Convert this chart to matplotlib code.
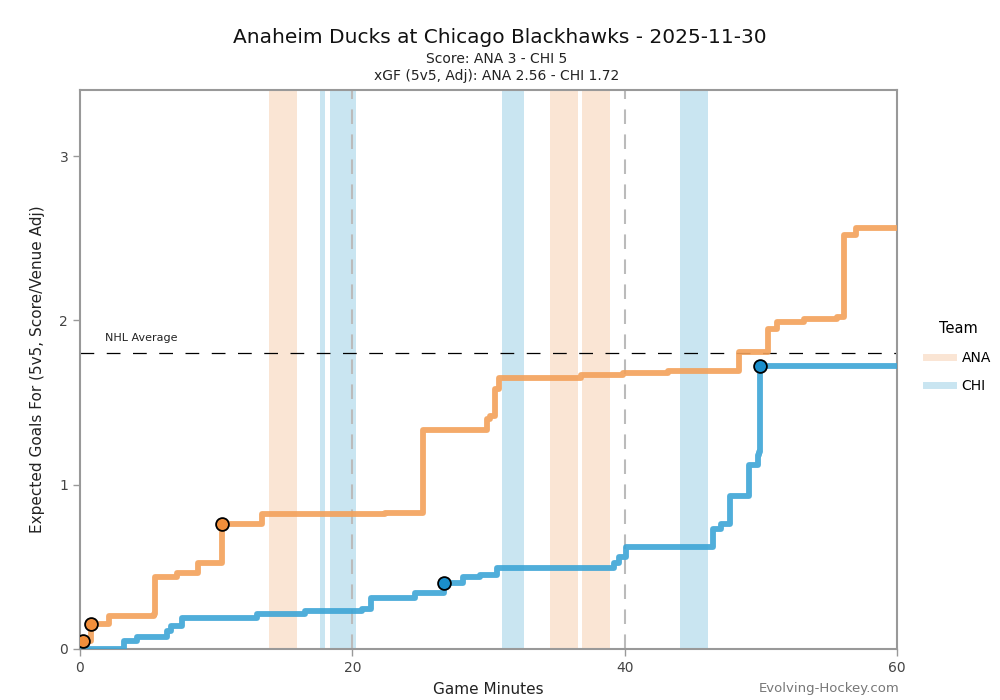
import numpy as np
import matplotlib
matplotlib.use('Agg')
import matplotlib.pyplot as plt
from matplotlib.lines import Line2D

# Cumulative 5v5 xGF (score/venue adj), step after each event
ana_t = [0, 0.2, 0.8, 2.1, 5.4, 5.5, 7.1, 8.7, 10.4, 13.4, 22.4, 25.2, 29.9, 30.1, 30.5, 30.8,
         36.8, 39.9, 43.2, 48.4, 50.5, 51.2, 53.2, 55.6, 56.1, 57.0, 60]
ana_xg = [0, 0.05, 0.15, 0.20, 0.21, 0.44, 0.46, 0.52, 0.76, 0.82, 0.83, 1.33, 1.40, 1.42, 1.58, 1.65,
          1.67, 1.68, 1.69, 1.81, 1.95, 1.99, 2.01, 2.02, 2.52, 2.56, 2.56]
chi_t = [0, 3.2, 4.2, 6.4, 6.7, 7.5, 13.0, 16.5, 20.7, 21.4, 24.6, 26.7, 28.1, 29.4, 30.6,
         39.2, 39.6, 40.1, 46.5, 47.1, 47.7, 49.1, 49.8, 49.9, 49.95, 60]
chi_xg = [0, 0.05, 0.07, 0.11, 0.14, 0.19, 0.21, 0.23, 0.24, 0.31, 0.34, 0.40, 0.44, 0.45, 0.49,
          0.52, 0.56, 0.62, 0.73, 0.76, 0.93, 1.12, 1.18, 1.20, 1.72, 1.72]

# Goals
ana_goal_t = [0.2, 0.8, 10.4]
ana_goal_xg = [0.05, 0.15, 0.76]
chi_goal_t = [26.7, 49.95]
chi_goal_xg = [0.40, 1.72]

# Power play windows (start, end) in minutes
ana_pp = [(13.9, 15.9), (34.5, 36.6), (36.9, 38.9)]
chi_pp = [(17.6, 18.0), (18.35, 20.3), (31.0, 32.6), (44.1, 46.1)]

NHL_AVG = 1.8

ANA_LINE, ANA_DOT, ANA_BAND = '#F3A15A', '#F28F3B', '#FAE5D4'
CHI_LINE, CHI_DOT, CHI_BAND = '#3DA5D6', '#1B8FCC', '#C9E5F1'
GREY = '#444444'

plt.rcParams['font.family'] = ['DejaVu Sans']

fig = plt.figure(figsize=(10, 7), dpi=100)
fig.set_facecolor('#FFFFFF')
ax = fig.add_axes([0.08, 0.073, 0.817, 0.798])

# Bands
for s, e in ana_pp:
    ax.axvspan(s, e, color=ANA_BAND, lw=0, zorder=1)
for s, e in chi_pp:
    ax.axvspan(s, e, color=CHI_BAND, lw=0, zorder=1)

# Period lines
for p in [20, 40]:
    ax.axvline(p, color='#BBBBBB', lw=1.5, dashes=(7, 5), zorder=2)

# NHL average
ax.axhline(NHL_AVG, color='black', lw=0.9, dashes=(11, 10), zorder=2)
ax.text(1.8, NHL_AVG + 0.06, 'NHL Average', fontsize=8, color='#222222', va='bottom')

# Step lines
ax.step(ana_t, ana_xg, where='post', color=ANA_LINE, lw=4.2, alpha=0.9, zorder=3)
ax.step(chi_t, chi_xg, where='post', color=CHI_LINE, lw=4.2, alpha=0.9, zorder=3)

# Goals
ax.scatter(ana_goal_t, ana_goal_xg, s=85, color=ANA_DOT, edgecolor='black', lw=1.3, zorder=4)
ax.scatter(chi_goal_t, chi_goal_xg, s=85, color=CHI_DOT, edgecolor='black', lw=1.3, zorder=4)

# Axes
ax.set_xlim(0, 60)
ax.set_ylim(0, 3.4)
ax.set_xticks([0, 20, 40, 60])
ax.set_yticks([0, 1, 2, 3])
ax.tick_params(colors='#999999', labelcolor=GREY, labelsize=10, length=5, width=1)
for sp in ax.spines.values():
    sp.set_color('#999999')
    sp.set_linewidth(1.5)

ax.set_xlabel('Game Minutes', fontsize=11, color='#222222', labelpad=5)
ax.set_ylabel('Expected Goals For (5v5, Score/Venue Adj)', fontsize=11, color='#222222', labelpad=10)

# Titles
fig.text(0.5, 0.946, 'Anaheim Ducks at Chicago Blackhawks - 2025-11-30', ha='center', va='center',
         fontsize=14.5, color='#111111')
fig.text(0.497, 0.916, 'Score: ANA 3 - CHI 5', ha='center', va='center', fontsize=10, color='#222222')
fig.text(0.497, 0.891, 'xGF (5v5, Adj): ANA 2.56 - CHI 1.72', ha='center', va='center', fontsize=10,
         color='#222222')

# Legend
handles = [Line2D([0], [0], color=ANA_BAND, lw=5), Line2D([0], [0], color=CHI_BAND, lw=5)]
leg = fig.legend(handles, ['ANA', 'CHI'], title='Team', loc='center left', bbox_to_anchor=(0.913, 0.49),
                 frameon=False, fontsize=10, title_fontsize=10.5, handlelength=2.0, handletextpad=0.6,
                 labelspacing=1.05)

# Watermark
fig.text(0.9, 0.016, 'Evolving-Hockey.com', ha='right', va='center', fontsize=9.5, color='#777777')

plt.savefig('out.png', dpi=100)
